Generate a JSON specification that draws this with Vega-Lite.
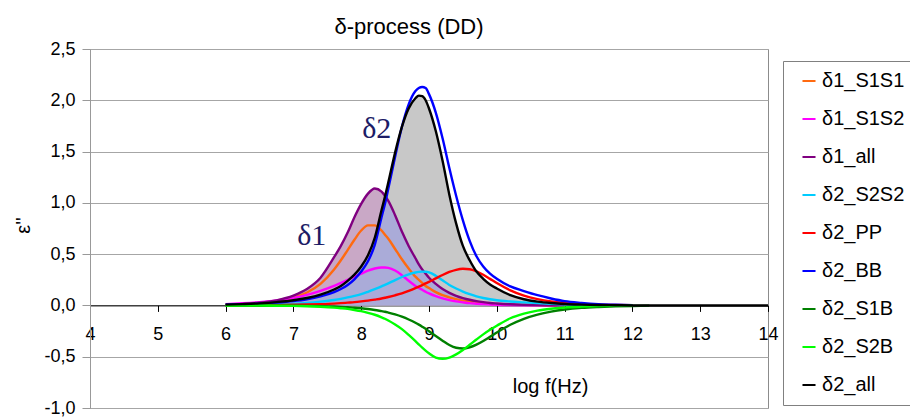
{
  "$schema": "https://vega.github.io/schema/vega-lite/v6.json",
  "width": 678,
  "height": 359,
  "autosize": {"type": "none"},
  "padding": {"left": 90, "top": 49, "right": 142, "bottom": 9},
  "background": "white",
  "title": {"text": "δ-process (DD)", "fontSize": 22, "font": "Liberation Sans", "fontWeight": "normal", "color": "black", "anchor": "middle", "dx": -20, "dy": 33, "offset": 12, "baseline": "bottom", "frame": "group"},
  "encoding": {
    "x": {"field": "x", "type": "quantitative", "scale": {"domain": [4, 14], "nice": false, "zero": false},
      "axis": {"values": [4,5,6,7,8,9,10,11,12,13,14], "offset": -102.6, "grid": false, "labelFontSize": 18, "labelFont": "Liberation Sans", "labelColor": "black", "labelPadding": 14, "labelFlush": false, "labelOverlap": false, "tickSize": 6, "tickColor": "black", "domainColor": "black", "title": "log f(Hz)", "titleFont": "Liberation Sans", "titleFontSize": 20, "titleFontWeight": "normal", "titleColor": "black", "titleX": 460, "titleY": 81, "titleAlign": "center", "titleBaseline": "middle"}},
    "y": {"field": "value", "type": "quantitative", "scale": {"domain": [-1, 2.5], "nice": false, "zero": false},
      "axis": {"values": [-1,-0.5,0,0.5,1,1.5,2,2.5], "labelExpr": "replace(replace(format(datum.value, '.1f'), '.', ','), '\u2212', '-')", "labelFontSize": 18, "labelFont": "Liberation Sans", "labelColor": "black", "labelPadding": 7, "tickSize": 8, "tickColor": "#999999", "domainColor": "#999999", "grid": true, "gridColor": "#a6a6a6", "title": "ε''", "titleFont": "Liberation Sans", "titleFontSize": 20, "titleFontWeight": "normal", "titleColor": "black", "titleAngle": -90, "titleX": -67, "titleY": 176, "titleAlign": "center", "titleBaseline": "middle"}}
  },
  "layer": [
    {
      "data": {"values": [
        {"x": 6.0, "δ1_S1S1": 0.005, "δ1_S1S2": 0.013, "δ1_all": 0.007, "δ2_S2S2": 0.003, "δ2_PP": 0.001, "δ2_BB": 0.007, "δ2_S1B": -0.0003, "δ2_S2B": -0.0004, "δ2_all": 0.008, "ov": 0.007},
        {"x": 6.25, "δ1_S1S1": 0.010, "δ1_S1S2": 0.021, "δ1_all": 0.014, "δ2_S2S2": 0.004, "δ2_PP": 0.0014, "δ2_BB": 0.011, "δ2_S1B": -0.0005, "δ2_S2B": -0.0008, "δ2_all": 0.013, "ov": 0.013},
        {"x": 6.5, "δ1_S1S1": 0.020, "δ1_S1S2": 0.032, "δ1_all": 0.026, "δ2_S2S2": 0.007, "δ2_PP": 0.0023, "δ2_BB": 0.017, "δ2_S1B": -0.0009, "δ2_S2B": -0.0014, "δ2_all": 0.020, "ov": 0.020},
        {"x": 6.75, "δ1_S1S1": 0.039, "δ1_S1S2": 0.048, "δ1_all": 0.050, "δ2_S2S2": 0.011, "δ2_PP": 0.0037, "δ2_BB": 0.027, "δ2_S1B": -0.0016, "δ2_S2B": -0.0026, "δ2_all": 0.032, "ov": 0.032},
        {"x": 7.0, "δ1_S1S1": 0.075, "δ1_S1S2": 0.073, "δ1_all": 0.096, "δ2_S2S2": 0.017, "δ2_PP": 0.006, "δ2_BB": 0.042, "δ2_S1B": -0.0028, "δ2_S2B": -0.0048, "δ2_all": 0.050, "ov": 0.050},
        {"x": 7.2, "δ1_S1S1": 0.126, "δ1_S1S2": 0.103, "δ1_all": 0.16, "δ2_S2S2": 0.025, "δ2_PP": 0.0085, "δ2_BB": 0.060, "δ2_S1B": -0.0045, "δ2_S2B": -0.008, "δ2_all": 0.072, "ov": 0.072},
        {"x": 7.4, "δ1_S1S1": 0.21, "δ1_S1S2": 0.142, "δ1_all": 0.27, "δ2_S2S2": 0.037, "δ2_PP": 0.0125, "δ2_BB": 0.088, "δ2_S1B": -0.007, "δ2_S2B": -0.013, "δ2_all": 0.105, "ov": 0.105},
        {"x": 7.6, "δ1_S1S1": 0.35, "δ1_S1S2": 0.19, "δ1_all": 0.47, "δ2_S2S2": 0.053, "δ2_PP": 0.018, "δ2_BB": 0.13, "δ2_S1B": -0.011, "δ2_S2B": -0.021, "δ2_all": 0.155, "ov": 0.155},
        {"x": 7.7, "δ1_S1S1": 0.44, "δ1_S1S2": 0.22, "δ1_all": 0.58, "δ2_S2S2": 0.064, "δ2_PP": 0.022, "δ2_BB": 0.16, "δ2_S1B": -0.014, "δ2_S2B": -0.027, "δ2_all": 0.19, "ov": 0.19},
        {"x": 7.8, "δ1_S1S1": 0.54, "δ1_S1S2": 0.25, "δ1_all": 0.71, "δ2_S2S2": 0.078, "δ2_PP": 0.027, "δ2_BB": 0.20, "δ2_S1B": -0.018, "δ2_S2B": -0.034, "δ2_all": 0.24, "ov": 0.24},
        {"x": 7.9, "δ1_S1S1": 0.64, "δ1_S1S2": 0.28, "δ1_all": 0.86, "δ2_S2S2": 0.093, "δ2_PP": 0.032, "δ2_BB": 0.255, "δ2_S1B": -0.022, "δ2_S2B": -0.044, "δ2_all": 0.30, "ov": 0.30},
        {"x": 8.0, "δ1_S1S1": 0.73, "δ1_S1S2": 0.31, "δ1_all": 0.99, "δ2_S2S2": 0.11, "δ2_PP": 0.039, "δ2_BB": 0.33, "δ2_S1B": -0.028, "δ2_S2B": -0.056, "δ2_all": 0.38, "ov": 0.38},
        {"x": 8.1, "δ1_S1S1": 0.78, "δ1_S1S2": 0.34, "δ1_all": 1.09, "δ2_S2S2": 0.133, "δ2_PP": 0.047, "δ2_BB": 0.43, "δ2_S1B": -0.035, "δ2_S2B": -0.072, "δ2_all": 0.49, "ov": 0.49},
        {"x": 8.2, "δ1_S1S1": 0.78, "δ1_S1S2": 0.36, "δ1_all": 1.14, "δ2_S2S2": 0.158, "δ2_PP": 0.057, "δ2_BB": 0.59, "δ2_S1B": -0.044, "δ2_S2B": -0.091, "δ2_all": 0.66, "ov": 0.66},
        {"x": 8.3, "δ1_S1S1": 0.73, "δ1_S1S2": 0.37, "δ1_all": 1.11, "δ2_S2S2": 0.185, "δ2_PP": 0.068, "δ2_BB": 0.86, "δ2_S1B": -0.056, "δ2_S2B": -0.116, "δ2_all": 0.93, "ov": 0.93},
        {"x": 8.35, "δ1_S1S1": 0.69, "δ1_S1S2": 0.37, "δ1_all": 1.07, "δ2_S2S2": 0.20, "δ2_PP": 0.075, "δ2_BB": 0.99, "δ2_S1B": -0.062, "δ2_S2B": -0.13, "δ2_all": 1.06, "ov": 1.06},
        {"x": 8.4, "δ1_S1S1": 0.65, "δ1_S1S2": 0.366, "δ1_all": 1.02, "δ2_S2S2": 0.215, "δ2_PP": 0.082, "δ2_BB": 1.14, "δ2_S1B": -0.07, "δ2_S2B": -0.147, "δ2_all": 1.2, "ov": 1.02},
        {"x": 8.5, "δ1_S1S1": 0.55, "δ1_S1S2": 0.34, "δ1_all": 0.88, "δ2_S2S2": 0.247, "δ2_PP": 0.099, "δ2_BB": 1.45, "δ2_S1B": -0.088, "δ2_S2B": -0.186, "δ2_all": 1.49, "ov": 0.88},
        {"x": 8.6, "δ1_S1S1": 0.45, "δ1_S1S2": 0.295, "δ1_all": 0.72, "δ2_S2S2": 0.277, "δ2_PP": 0.118, "δ2_BB": 1.74, "δ2_S1B": -0.11, "δ2_S2B": -0.231, "δ2_all": 1.74, "ov": 0.72},
        {"x": 8.7, "δ1_S1S1": 0.36, "δ1_S1S2": 0.24, "δ1_all": 0.58, "δ2_S2S2": 0.303, "δ2_PP": 0.141, "δ2_BB": 1.96, "δ2_S1B": -0.137, "δ2_S2B": -0.287, "δ2_all": 1.92, "ov": 0.58},
        {"x": 8.8, "δ1_S1S1": 0.28, "δ1_S1S2": 0.19, "δ1_all": 0.46, "δ2_S2S2": 0.321, "δ2_PP": 0.168, "δ2_BB": 2.09, "δ2_S1B": -0.169, "δ2_S2B": -0.348, "δ2_all": 2.02, "ov": 0.46},
        {"x": 8.85, "δ1_S1S1": 0.25, "δ1_S1S2": 0.17, "δ1_all": 0.40, "δ2_S2S2": 0.327, "δ2_PP": 0.183, "δ2_BB": 2.12, "δ2_S1B": -0.187, "δ2_S2B": -0.38, "δ2_all": 2.045, "ov": 0.40},
        {"x": 8.9, "δ1_S1S1": 0.22, "δ1_S1S2": 0.153, "δ1_all": 0.35, "δ2_S2S2": 0.33, "δ2_PP": 0.198, "δ2_BB": 2.13, "δ2_S1B": -0.207, "δ2_S2B": -0.412, "δ2_all": 2.04, "ov": 0.35},
        {"x": 8.95, "δ1_S1S1": 0.19, "δ1_S1S2": 0.133, "δ1_all": 0.31, "δ2_S2S2": 0.329, "δ2_PP": 0.215, "δ2_BB": 2.12, "δ2_S1B": -0.228, "δ2_S2B": -0.441, "δ2_all": 2.0, "ov": 0.31},
        {"x": 9.0, "δ1_S1S1": 0.17, "δ1_S1S2": 0.117, "δ1_all": 0.27, "δ2_S2S2": 0.323, "δ2_PP": 0.23, "δ2_BB": 2.06, "δ2_S1B": -0.252, "δ2_S2B": -0.467, "δ2_all": 1.92, "ov": 0.27},
        {"x": 9.1, "δ1_S1S1": 0.13, "δ1_S1S2": 0.09, "δ1_all": 0.21, "δ2_S2S2": 0.29, "δ2_PP": 0.264, "δ2_BB": 1.88, "δ2_S1B": -0.299, "δ2_S2B": -0.508, "δ2_all": 1.70, "ov": 0.21},
        {"x": 9.2, "δ1_S1S1": 0.10, "δ1_S1S2": 0.068, "δ1_all": 0.16, "δ2_S2S2": 0.245, "δ2_PP": 0.297, "δ2_BB": 1.63, "δ2_S1B": -0.344, "δ2_S2B": -0.52, "δ2_all": 1.41, "ov": 0.16},
        {"x": 9.3, "δ1_S1S1": 0.079, "δ1_S1S2": 0.052, "δ1_all": 0.123, "δ2_S2S2": 0.20, "δ2_PP": 0.326, "δ2_BB": 1.34, "δ2_S1B": -0.386, "δ2_S2B": -0.508, "δ2_all": 1.08, "ov": 0.123},
        {"x": 9.4, "δ1_S1S1": 0.061, "δ1_S1S2": 0.039, "δ1_all": 0.094, "δ2_S2S2": 0.165, "δ2_PP": 0.347, "δ2_BB": 1.07, "δ2_S1B": -0.413, "δ2_S2B": -0.477, "δ2_all": 0.80, "ov": 0.094},
        {"x": 9.5, "δ1_S1S1": 0.047, "δ1_S1S2": 0.030, "δ1_all": 0.072, "δ2_S2S2": 0.135, "δ2_PP": 0.357, "δ2_BB": 0.83, "δ2_S1B": -0.42, "δ2_S2B": -0.434, "δ2_all": 0.58, "ov": 0.072},
        {"x": 9.6, "δ1_S1S1": 0.036, "δ1_S1S2": 0.022, "δ1_all": 0.055, "δ2_S2S2": 0.11, "δ2_PP": 0.353, "δ2_BB": 0.63, "δ2_S1B": -0.408, "δ2_S2B": -0.384, "δ2_all": 0.44, "ov": 0.055},
        {"x": 9.7, "δ1_S1S1": 0.028, "δ1_S1S2": 0.017, "δ1_all": 0.042, "δ2_S2S2": 0.088, "δ2_PP": 0.332, "δ2_BB": 0.48, "δ2_S1B": -0.382, "δ2_S2B": -0.332, "δ2_all": 0.33, "ov": 0.042},
        {"x": 9.8, "δ1_S1S1": 0.022, "δ1_S1S2": 0.0125, "δ1_all": 0.032, "δ2_S2S2": 0.072, "δ2_PP": 0.299, "δ2_BB": 0.38, "δ2_S1B": -0.347, "δ2_S2B": -0.282, "δ2_all": 0.26, "ov": 0.032},
        {"x": 9.9, "δ1_S1S1": 0.017, "δ1_S1S2": 0.0095, "δ1_all": 0.024, "δ2_S2S2": 0.06, "δ2_PP": 0.259, "δ2_BB": 0.31, "δ2_S1B": -0.306, "δ2_S2B": -0.238, "δ2_all": 0.205, "ov": 0.024},
        {"x": 10.0, "δ1_S1S1": 0.013, "δ1_S1S2": 0.007, "δ1_all": 0.019, "δ2_S2S2": 0.05, "δ2_PP": 0.218, "δ2_BB": 0.26, "δ2_S1B": -0.264, "δ2_S2B": -0.198, "δ2_all": 0.165, "ov": 0.019},
        {"x": 10.2, "δ1_S1S1": 0.0075, "δ1_S1S2": 0.004, "δ1_all": 0.011, "δ2_S2S2": 0.038, "δ2_PP": 0.147, "δ2_BB": 0.185, "δ2_S1B": -0.188, "δ2_S2B": -0.125, "δ2_all": 0.10, "ov": 0.011},
        {"x": 10.4, "δ1_S1S1": 0.005, "δ1_S1S2": 0.002, "δ1_all": 0.006, "δ2_S2S2": 0.03, "δ2_PP": 0.095, "δ2_BB": 0.14, "δ2_S1B": -0.13, "δ2_S2B": -0.08, "δ2_all": 0.06, "ov": 0.006},
        {"x": 10.6, "δ1_S1S1": 0.003, "δ1_S1S2": 0.001, "δ1_all": 0.003, "δ2_S2S2": 0.022, "δ2_PP": 0.061, "δ2_BB": 0.10, "δ2_S1B": -0.089, "δ2_S2B": -0.05, "δ2_all": 0.037, "ov": 0.003},
        {"x": 10.8, "δ1_S1S1": 0.002, "δ1_S1S2": 0.0005, "δ1_all": 0.002, "δ2_S2S2": 0.016, "δ2_PP": 0.038, "δ2_BB": 0.068, "δ2_S1B": -0.06, "δ2_S2B": -0.032, "δ2_all": 0.023, "ov": 0.002},
        {"x": 11.0, "δ1_S1S1": 0.001, "δ1_S1S2": 0.0, "δ1_all": 0.001, "δ2_S2S2": 0.011, "δ2_PP": 0.024, "δ2_BB": 0.042, "δ2_S1B": -0.04, "δ2_S2B": -0.02, "δ2_all": 0.014, "ov": 0.001},
        {"x": 11.25, "δ2_S2S2": 0.007, "δ2_PP": 0.014, "δ2_BB": 0.025, "δ2_S1B": -0.024, "δ2_S2B": -0.012, "δ2_all": 0.008},
        {"x": 11.5, "δ2_S2S2": 0.004, "δ2_PP": 0.008, "δ2_BB": 0.013, "δ2_S1B": -0.015, "δ2_S2B": -0.007, "δ2_all": 0.004},
        {"x": 11.75, "δ2_S2S2": 0.002, "δ2_PP": 0.004, "δ2_BB": 0.006, "δ2_S1B": -0.009, "δ2_S2B": -0.004, "δ2_all": 0.002},
        {"x": 12.0, "δ2_S2S2": 0.001, "δ2_PP": 0.002, "δ2_BB": 0.002, "δ2_S1B": -0.005, "δ2_S2B": -0.002, "δ2_all": 0.0},
        {"x": 12.25, "δ2_S1B": -0.002, "δ2_all": 0.0},
        {"x": 12.5, "δ2_all": 0.0},
        {"x": 13.0, "δ2_all": 0.0},
        {"x": 13.5, "δ2_all": 0.0},
        {"x": 14.0, "δ2_all": 0.0}
      ]},
      "transform": [
        {"fold": ["δ1_S1S1", "δ1_S1S2", "δ1_all", "δ2_S2S2", "δ2_PP", "δ2_BB", "δ2_S1B", "δ2_S2B", "δ2_all", "ov"], "as": ["series", "value"]}
      ],
      "layer": [
        {"transform": [{"filter": "datum.series === 'δ2_all'"}], "mark": {"type": "area", "interpolate": "monotone", "color": "#c8c8c8", "invalid": "filter"}, "encoding": {"y2": {"datum": 0}}},
        {"transform": [{"filter": "datum.series === 'δ1_all'"}], "mark": {"type": "area", "interpolate": "monotone", "color": "#c9a8c6", "invalid": "filter"}, "encoding": {"y2": {"datum": 0}}},
        {"transform": [{"filter": "datum.series === 'ov'"}], "mark": {"type": "area", "interpolate": "monotone", "color": "#aaabd8", "invalid": "filter"}, "encoding": {"y2": {"datum": 0}}},
        {"transform": [{"filter": "datum.series !== 'ov'"}], "mark": {"type": "line", "interpolate": "monotone", "strokeWidth": 2.4, "invalid": "filter"},
          "encoding": {"color": {"field": "series", "type": "nominal",
            "scale": {"domain": ["δ1_S1S1", "δ1_S1S2", "δ1_all", "δ2_S2S2", "δ2_PP", "δ2_BB", "δ2_S1B", "δ2_S2B", "δ2_all"], "range": ["#ff6a10", "#ff00ff", "#800080", "#00ccff", "#ff0000", "#0000ff", "#008000", "#00ff00", "#000000"]},
            "legend": {"orient": "none", "legendX": 693, "legendY": 12, "title": null, "symbolType": "stroke", "symbolStrokeWidth": 2, "symbolSize": 170, "symbolOffset": 6, "labelFontSize": 20, "labelFont": "Liberation Sans", "labelColor": "black", "labelOffset": 3, "rowPadding": 18, "padding": 10, "strokeColor": "#808080", "fillColor": "white"}}}}
      ]
    },
    {
      "data": {"values": [
        {"x": 7.27, "value": 0.68, "label": "δ1"},
        {"x": 8.23, "value": 1.72, "label": "δ2"}
      ]},
      "mark": {"type": "text", "font": "Liberation Serif", "fontSize": 30, "color": "#1c1c66", "align": "center", "baseline": "middle"},
      "encoding": {"text": {"field": "label"}}
    }
  ],
  "config": {"view": {"stroke": "#8c8c8c", "strokeWidth": 1}}
}
